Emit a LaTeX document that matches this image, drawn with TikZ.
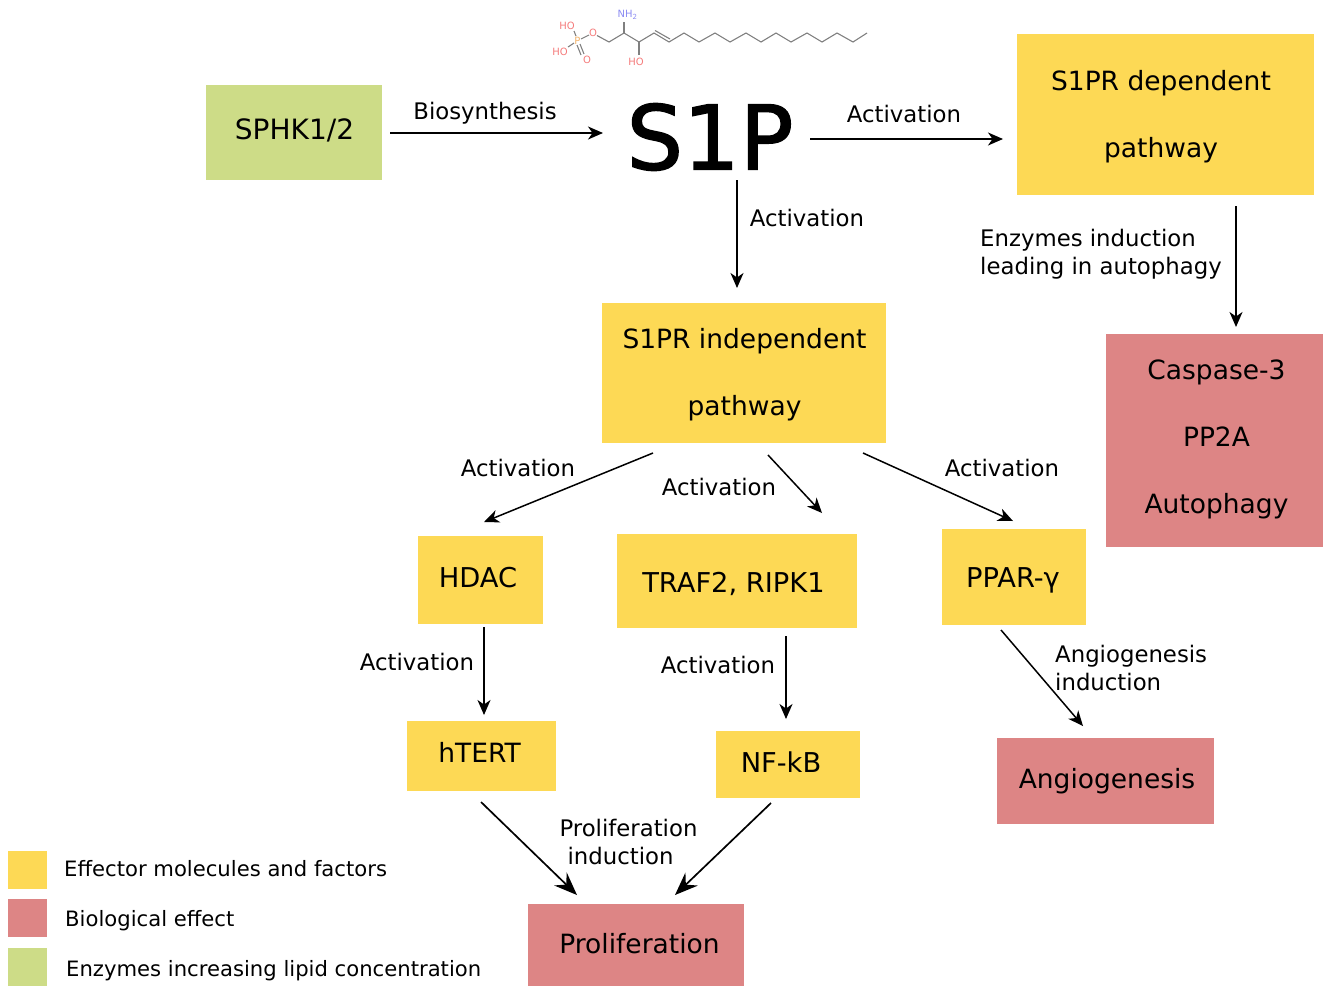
\documentclass[tikz,border=0pt]{standalone}
\usepackage{fontspec}
\setmainfont{DejaVu Sans}
\newfontfamily\heavyfont[FakeBold=1.6]{DejaVu Sans}
\usetikzlibrary{arrows.meta}
\definecolor{effyellow}{HTML}{FDD955}
\definecolor{bioRed}{HTML}{DD8585}
\definecolor{enzGreen}{HTML}{CDDC87}
\definecolor{bondgray}{HTML}{808080}
\definecolor{atomred}{HTML}{F47A7A}
\definecolor{atomblue}{HTML}{8C8CF2}
\definecolor{atomorange}{HTML}{F2B36B}
\newcommand{\boxtext}[3]{\raisebox{#2}[0pt][0pt]{\makebox[0pt]{\hspace{#1}\begin{tabular}{@{}c@{}}#3\end{tabular}}}}
\tikzset{
  fbox/.style={rectangle,draw=none,inner sep=0pt,font=\fontsize{26.5}{31}\selectfont},
  smallfont/.style={font=\fontsize{27.3}{31}\selectfont},
  yellowbox/.style={fbox,fill=effyellow},
  redbox/.style={fbox,fill=bioRed},
  greenbox/.style={fbox,fill=enzGreen},
  lbl/.style={inner sep=0pt,font=\fontsize{22.8}{28.5}\selectfont,align=center},
  lbll/.style={lbl,align=left,anchor=west},
  legendtext/.style={inner sep=0pt,anchor=base west,font=\fontsize{21.15}{26}\selectfont},
  conn/.style={draw=black,line width=1.5pt,-{Stealth[length=15pt,width=13pt,inset=4.5pt]}},
  connbig/.style={conn,line width=1.7pt,-{Stealth[length=23pt,width=18pt,inset=8pt]}},
  bond/.style={draw=bondgray,line width=1.1pt},
  atom/.style={inner sep=0pt,font=\fontsize{10}{11}\selectfont},
}
\begin{document}
\begin{tikzpicture}[x=1pt,y=-1pt]
\useasboundingbox (0,0) rectangle (1325,986);
% boxes
\node[greenbox,smallfont,minimum width=176pt,minimum height=95pt,font=\fontsize{28}{31}\selectfont] (sphk) at (294,132.5) {\boxtext{1pt}{-7pt}{SPHK1/2}};
\node[font=\heavyfont\fontsize{89}{100}\selectfont,inner sep=0pt] (s1p) at (710,137) {S1P};
\node[yellowbox,minimum width=297pt,minimum height=161pt] (dep) at (1165.5,114.5) {\boxtext{-9pt}{-10pt}{S1PR dependent\\[36pt]pathway}};
\node[yellowbox,minimum width=284pt,minimum height=140pt] (indep) at (744,373) {\boxtext{1pt}{-9pt}{S1PR independent\\[36pt]pathway}};
\node[redbox,minimum width=217pt,minimum height=213pt] (casp) at (1214.5,440.5) {\boxtext{4pt}{-6pt}{Caspase-3\\[36pt]PP2A\\[36pt]Autophagy}};
\node[yellowbox,smallfont,minimum width=125pt,minimum height=88pt] (hdac) at (480.5,580) {\boxtext{-5pt}{-8pt}{HDAC}};
\node[yellowbox,smallfont,minimum width=240pt,minimum height=94pt] (traf) at (737,581) {\boxtext{-7pt}{-12pt}{TRAF2, RIPK1}};
\node[yellowbox,smallfont,minimum width=144pt,minimum height=96pt] (ppar) at (1014,577) {\boxtext{-2pt}{-11pt}{PPAR-γ}};
\node[yellowbox,minimum width=149pt,minimum height=70pt] (htert) at (481.5,756) {\boxtext{-4pt}{-7pt}{hTERT}};
\node[yellowbox,smallfont,minimum width=144pt,minimum height=67pt] (nfkb) at (788,764.5) {\boxtext{-14pt}{-8pt}{NF-kB}};
\node[redbox,minimum width=217pt,minimum height=86pt] (angio) at (1105.5,781) {\boxtext{3pt}{-8pt}{Angiogenesis}};
\node[redbox,minimum width=216pt,minimum height=82pt] (prolif) at (636,945) {\boxtext{7pt}{-9pt}{Proliferation}};
% connector ends
\coordinate (a1) at (390,133); \coordinate (a2) at (603,133);
\coordinate (b1) at (810,139); \coordinate (b2) at (1003,139);
\coordinate (c1) at (737,180); \coordinate (c2) at (737,288);
\coordinate (d1) at (1236,206); \coordinate (d2) at (1236,327);
\coordinate (e1) at (653,453); \coordinate (e2) at (484,522);
\coordinate (f1) at (768,455); \coordinate (f2) at (822,513);
\coordinate (g1) at (863,453); \coordinate (g2) at (1013,521);
\coordinate (h1) at (484,627); \coordinate (h2) at (484,715);
\coordinate (i1) at (786,636); \coordinate (i2) at (786,719);
\coordinate (j1) at (1001,630); \coordinate (j2) at (1083,726);
\coordinate (k1) at (481,802); \coordinate (k2) at (577,895);
\coordinate (l1) at (771,803); \coordinate (l2) at (675,895);
\draw[conn] (a1) -- (a2);
\draw[conn] (b1) -- (b2);
\draw[conn] (c1) -- (c2);
\draw[conn] (d1) -- (d2);
\draw[conn] (e1) -- (e2);
\draw[conn] (f1) -- (f2);
\draw[conn] (g1) -- (g2);
\draw[conn] (h1) -- (h2);
\draw[conn] (i1) -- (i2);
\draw[conn] (j1) -- (j2);
\draw[connbig] (k1) -- (k2);
\draw[connbig] (l1) -- (l2);
% labels
\node[lbl] (t1) at (485,113) {Biosynthesis};
\node[lbl] (t2) at (904,114) {Activation};
\node[lbl] (t3) at (807,218) {Activation};
\node[lbll] (t4) at (980,254) {Enzymes induction\\leading in autophagy};
\node[lbl] (t5) at (518,468) {Activation};
\node[lbl] (t6) at (719,487) {Activation};
\node[lbl] (t7) at (1002,468) {Activation};
\node[lbl] (t8) at (417,662) {Activation};
\node[lbl] (t9) at (718,665) {Activation};
\node[lbll] (t10) at (1055,668) {Angiogenesis\\induction};
\node[lbl] (t11) at (628.5,842) {Proliferation\\\hspace*{-16pt}induction};
% legend
\node[fill=effyellow,minimum width=39pt,minimum height=38pt,inner sep=0pt] (ly) at (27.5,870) {};
\node[fill=bioRed,minimum width=39pt,minimum height=38pt,inner sep=0pt] (lr) at (27.5,918) {};
\node[fill=enzGreen,minimum width=39pt,minimum height=38pt,inner sep=0pt] (lg) at (27.5,967) {};
\node[legendtext] (lt1) at (64,876) {Effector molecules and factors};
\node[legendtext] (lt2) at (65,926) {Biological effect};
\node[legendtext] (lt3) at (66,976) {Enzymes increasing lipid concentration};
% molecule
\draw[bond] (597,35.5) -- (609,42) -- (624,33) -- (639,42) -- (654,33) -- (669,42) -- (684,33) -- (699,42) -- (715,33) -- (730,42) -- (746,33) -- (761,42) -- (776,33) -- (791,42) -- (807,33) -- (822,42) -- (837,33) -- (853,42) -- (867,33);
\draw[bond] (655,30.5) -- (670,39);
\draw[bond] (624,33) -- (624,22);
\draw[bond] (639,42) -- (639,55);
\draw[bond] (581,39) -- (589,35);
\draw[bond] (576,36) -- (574,31);
\draw[bond] (574,43) -- (568,47);
\draw[bond] (580,44) -- (584,54);
\draw[bond] (577,45) -- (581,55);
\node[atom,text=atomorange] (mp) at (577.5,41) {P};
\node[atom,text=atomred] (mo1) at (593,33) {O};
\node[atom,text=atomred] (mo2) at (587,60) {O};
\node[atom,text=atomred] (mho1) at (567,26) {HO};
\node[atom,text=atomred] (mho2) at (560,52) {HO};
\node[atom,text=atomred] (mho3) at (636,62) {HO};
\node[atom,text=atomblue] (mn) at (627.5,15) {NH\textsubscript{2}};
\end{tikzpicture}
\end{document}
